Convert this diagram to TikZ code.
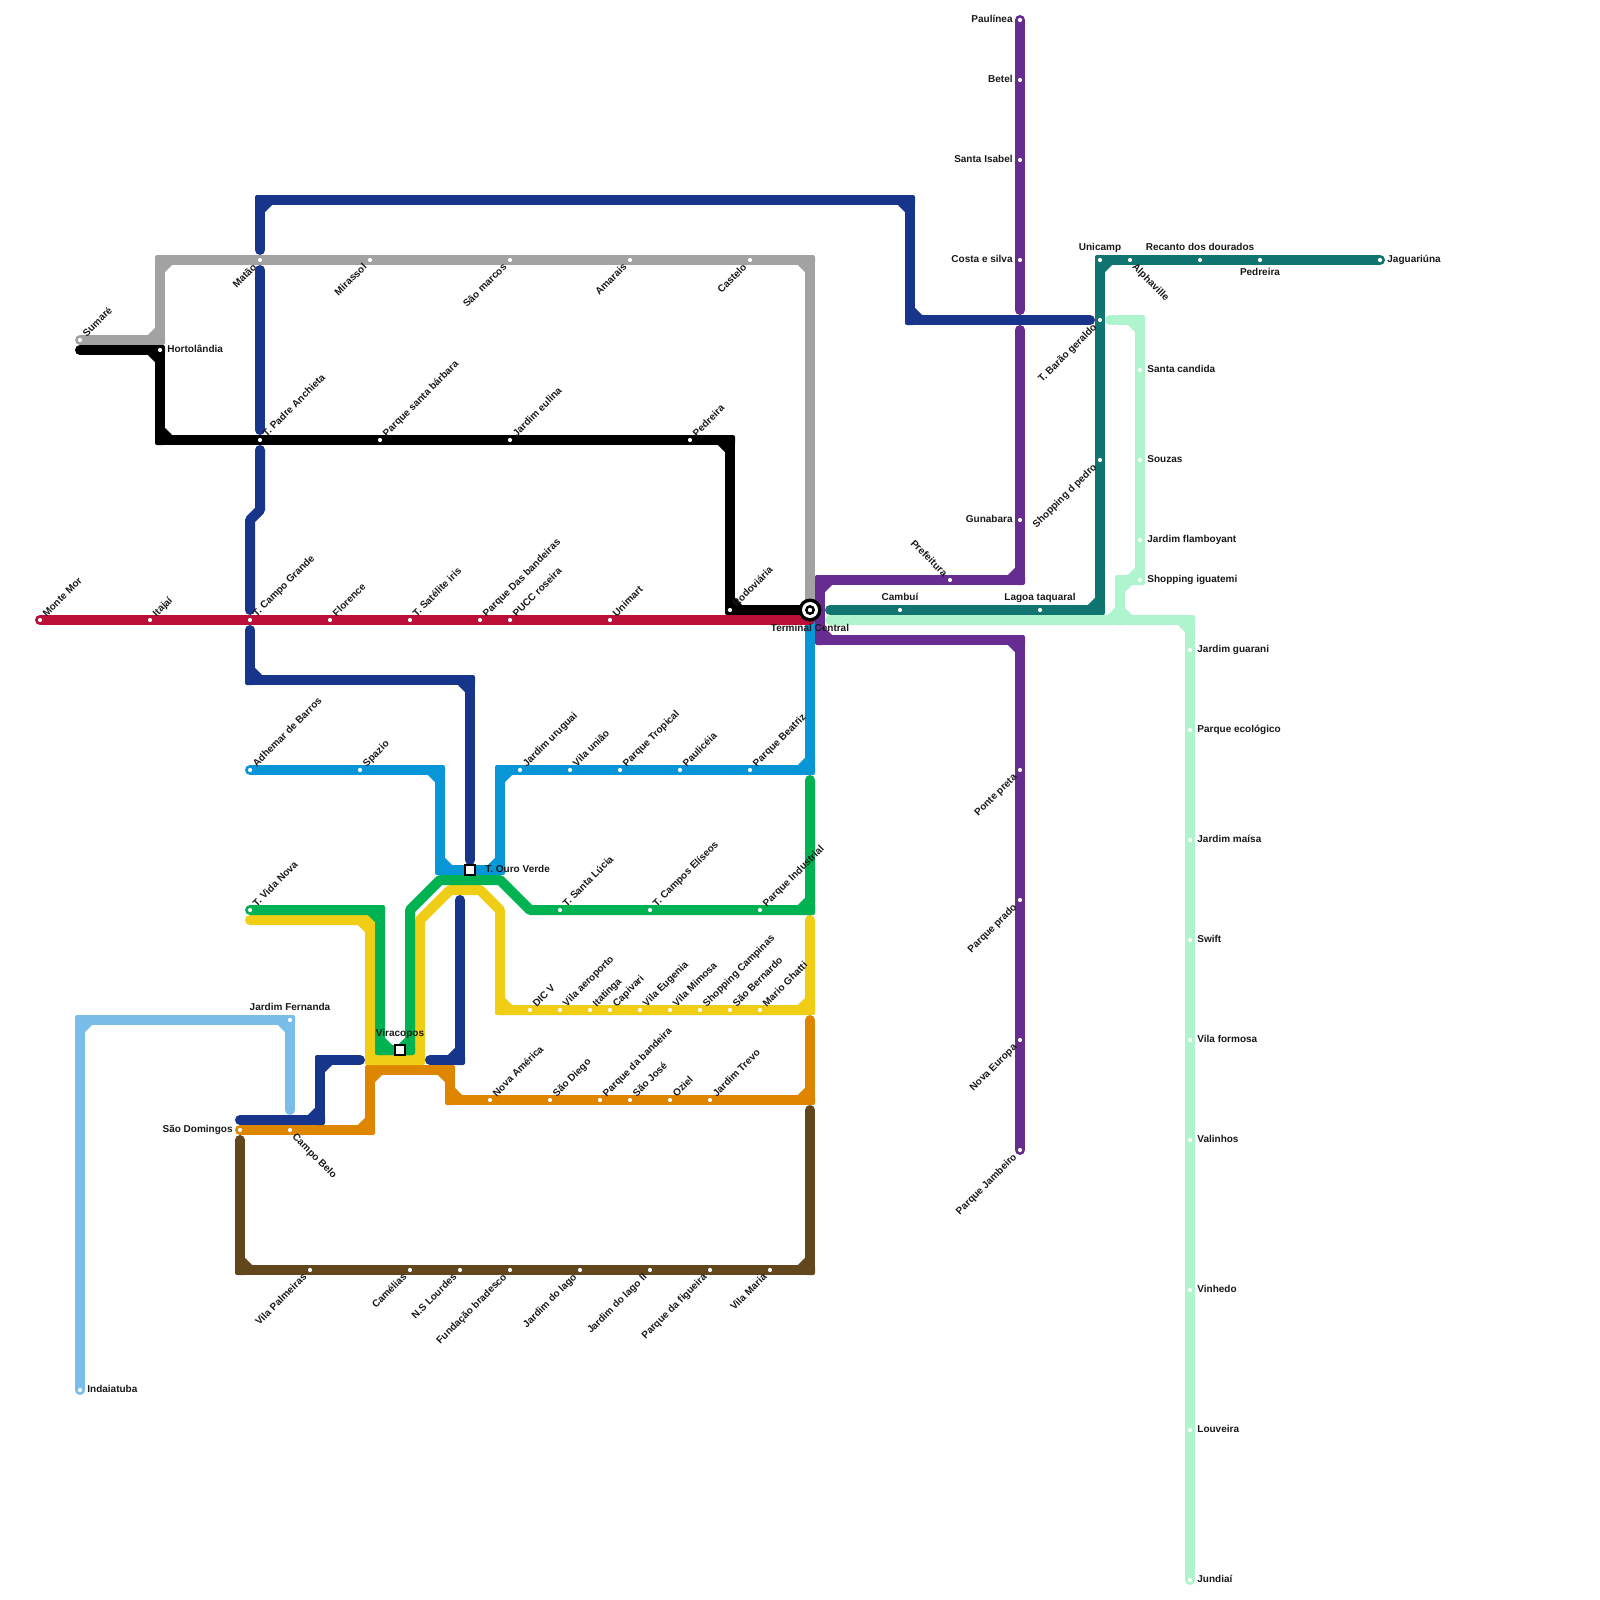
\documentclass[tikz,border=0pt]{standalone}
\usepackage{fontspec}
\setmainfont{Liberation Sans}
\usetikzlibrary{calc,backgrounds}
\definecolor{cRed}{HTML}{BD1038}
\definecolor{cGray}{HTML}{A2A2A2}
\definecolor{cNavy}{HTML}{18358C}
\definecolor{cPurple}{HTML}{662C90}
\definecolor{cTeal}{HTML}{107570}
\definecolor{cMint}{HTML}{AEF5CD}
\definecolor{cCyan}{HTML}{0896D7}
\definecolor{cGreen}{HTML}{00B251}
\definecolor{cYellow}{HTML}{F0CE15}
\definecolor{cOrange}{HTML}{DF8600}
\definecolor{cBrown}{HTML}{62461C}
\definecolor{cSky}{HTML}{79BDE9}
\tikzset{
  metro/.style={line width=5pt,line cap=round,line join=round},
  stopdot/.style={circle,fill=white,draw=none,inner sep=0pt,minimum size=2.1pt},
  txt/.style={font=\fontsize{5}{5.5}\selectfont\bfseries,inner sep=0pt,text=black!90},
  labNE/.style={txt,xshift=3.25pt,yshift=1.25pt,rotate=45,anchor=base west},
  labSW/.style={txt,xshift=-1.25pt,yshift=-3.75pt,rotate=45,anchor=base east},
  labSE/.style={txt,xshift=0.75pt,yshift=-3.75pt,rotate=-45,anchor=base west},
  labNW/.style={txt,xshift=-3.25pt,yshift=1.25pt,rotate=-45,anchor=base east},
  labE/.style={txt,xshift=3.5pt,yshift=-1.3pt,anchor=base west},
  labW/.style={txt,xshift=-3.5pt,yshift=-1.3pt,anchor=base east},
  labN/.style={txt,yshift=5pt,anchor=base},
  labS/.style={txt,yshift=-4pt,anchor=north},
  hubbox/.style={rectangle,fill=white,draw=black,line width=1pt,minimum size=4.6pt,inner sep=0pt},
}
% \st{id}{x,y}{label style}{text}
\newcommand\st[4]{\node[stopdot] (#1) at (#2) {}; \node[#3] (#1-l) at (#1.center) {#4};}
% \metroline{colour}{first}{rest}
\newcommand\metroline[3]{%
  \gdef\mlA{}\gdef\mlB{#2}%
  \foreach \mlC in {#3}{%
    \ifx\mlA\empty\else
      \path let \p0=(\mlB.center),
                \p1=($(\mlB.center)!1pt!(\mlA.center)$),
                \p2=($(\mlB.center)!1pt!(\mlC.center)$) in
        \pgfextra{\pgfmathtruncatemacro\mlTest{abs((\x1-\x0)*(\x2-\x0)+(\y1-\y0)*(\y2-\y0))<0.1 ? 1 : 0}\xdef\mlPerp{\mlTest}};
      \ifnum\mlPerp=1
        \draw[line width=5pt,#1] ($(\mlB.center)!5pt!(\mlA.center)$) -- ($(\mlB.center)!5pt!(\mlC.center)$);
        \fill[#1,rounded corners=1pt] ($(\mlB.center)+(-5,-5)$) rectangle ($(\mlB.center)+(5,5)$);
      \fi
    \fi
    \xdef\mlA{\mlB}\xdef\mlB{\mlC}%
  }%
  \draw[metro,#1] (#2.center) \foreach \mlC in {#3}{ -- (\mlC.center)};%
}
\begin{document}
\begin{tikzpicture}[x=0.5pt,y=-0.5pt]
\useasboundingbox (0,0) rectangle (1600,1600);
% red
\st{montemor}{40,620}{labNE}{Monte Mor}
\st{itajai}{150,620}{labNE}{Itajaí}
\st{campogrande}{250,620}{labNE}{T. Campo Grande}
\st{florence}{330,620}{labNE}{Florence}
\st{satelite}{410,620}{labNE}{T. Satélite iris}
\st{bandeiras}{480,620}{labNE}{Parque Das bandeiras}
\st{pucc}{510,620}{labNE}{PUCC roseira}
\st{unimart}{610,620}{labNE}{Unimart}
% gray
\st{sumare}{80,340}{labNE}{Sumaré}
\st{matao}{260,260}{labSW}{Matão}
\st{mirassol}{370,260}{labSW}{Mirassol}
\st{saomarcos}{510,260}{labSW}{São marcos}
\st{amarais}{630,260}{labSW}{Amarais}
\st{castelo}{750,260}{labSW}{Castelo}
% black
\st{hortolandia}{160,350}{labE}{Hortolândia}
\st{anchieta}{260,440}{labNE}{T. Padre Anchieta}
\st{santabarbara}{380,440}{labNE}{Parque santa bárbara}
\st{eulina}{510,440}{labNE}{Jardim eulina}
\st{pedreiraA}{690,440}{labNE}{Pedreira}
\st{rodoviaria}{730,610}{labNE}{Rodoviária}
% cyan
\st{adhemar}{250,770}{labNE}{Adhemar de Barros}
\st{spazio}{360,770}{labNE}{Spazio}
\st{uruguai}{520,770}{labNE}{Jardim uruguai}
\st{vilauniao}{570,770}{labNE}{Vila união}
\st{tropical}{620,770}{labNE}{Parque Tropical}
\st{pauliceia}{680,770}{labNE}{Paulicéia}
\st{beatriz}{750,770}{labNE}{Parque Beatriz}
% green
\st{vidanova}{250,910}{labNE}{T. Vida Nova}
\st{santalucia}{560,910}{labNE}{T. Santa Lúcia}
\st{eliseos}{650,910}{labNE}{T. Campos Elíseos}
\st{industrial}{760,910}{labNE}{Parque Industrial}
% yellow
\st{dicv}{530,1010}{labNE}{DIC V}
\st{aeroporto}{560,1010}{labNE}{Vila aeroporto}
\st{itatinga}{590,1010}{labNE}{Itatinga}
\st{capivari}{610,1010}{labNE}{Capivari}
\st{eugenia}{640,1010}{labNE}{Vila Eugenia}
\st{mimosa}{670,1010}{labNE}{Vila Mimosa}
\st{shopcamp}{700,1010}{labNE}{Shopping Campinas}
\st{bernardo}{730,1010}{labNE}{São Bernardo}
\st{ghatti}{760,1010}{labNE}{Mario Ghatti}
% orange
\st{domingos}{240,1130}{labW}{São Domingos}
\st{campobelo}{290,1130}{labSE}{Campo Belo}
\st{novaamerica}{490,1100}{labNE}{Nova América}
\st{saodiego}{550,1100}{labNE}{São Diego}
\st{pqbandeira}{600,1100}{labNE}{Parque da bandeira}
\st{saojose}{630,1100}{labNE}{São José}
\st{oziel}{670,1100}{labNE}{Oziel}
\st{trevo}{710,1100}{labNE}{Jardim Trevo}
% brown
\st{palmeiras}{310,1270}{labSW}{Vila Palmeiras}
\st{camelias}{410,1270}{labSW}{Camélias}
\st{lourdes}{460,1270}{labSW}{N.S Lourdes}
\st{bradesco}{510,1270}{labSW}{Fundação bradesco}
\st{lago}{580,1270}{labSW}{Jardim do lago}
\st{lagoii}{650,1270}{labSW}{Jardim do lago II}
\st{figueira}{710,1270}{labSW}{Parque da figueira}
\st{vilamaria}{770,1270}{labSW}{Vila Maria}
% sky
\st{fernanda}{290,1020}{labN}{Jardim Fernanda}
\st{indaiatuba}{80,1390}{labE}{Indaiatuba}
% purple
\st{paulinea}{1020,20}{labW}{Paulínea}
\st{betel}{1020,80}{labW}{Betel}
\st{santaisabel}{1020,160}{labW}{Santa Isabel}
\st{costaesilva}{1020,260}{labW}{Costa e silva}
\st{gunabara}{1020,520}{labW}{Gunabara}
\st{prefeitura}{950,580}{labNW}{Prefeitura}
\st{pontepreta}{1020,770}{labSW}{Ponte preta}
\st{parqueprado}{1020,900}{labSW}{Parque prado}
\st{novaeuropa}{1020,1040}{labSW}{Nova Europa}
\st{jambeiro}{1020,1150}{labSW}{Parque Jambeiro}
% teal
\st{cambui}{900,610}{labN}{Cambuí}
\st{taquaral}{1040,610}{labN}{Lagoa taquaral}
\st{dpedro}{1100,460}{labSW}{Shopping d pedro}
\st{barao}{1100,320}{labSW}{T. Barão geraldo}
\st{unicamp}{1100,260}{labN}{Unicamp}
\st{alphaville}{1130,260}{labSE}{Alphaville}
\st{recanto}{1200,260}{labN}{Recanto dos dourados}
\st{pedreiraB}{1260,260}{labS}{Pedreira}
\st{jaguariuna}{1380,260}{labE}{Jaguariúna}
% mint
\st{santacandida}{1140,370}{labE}{Santa candida}
\st{souzas}{1140,460}{labE}{Souzas}
\st{flamboyant}{1140,540}{labE}{Jardim flamboyant}
\st{iguatemi}{1140,580}{labE}{Shopping iguatemi}
\st{guarani}{1190,650}{labE}{Jardim guarani}
\st{ecologico}{1190,730}{labE}{Parque ecológico}
\st{maisa}{1190,840}{labE}{Jardim maísa}
\st{swift}{1190,940}{labE}{Swift}
\st{vilaformosa}{1190,1040}{labE}{Vila formosa}
\st{valinhos}{1190,1140}{labE}{Valinhos}
\st{vinhedo}{1190,1290}{labE}{Vinhedo}
\st{louveira}{1190,1430}{labE}{Louveira}
\st{jundiai}{1190,1580}{labE}{Jundiaí}
% hubs
\node[hubbox] (ouroverde) at (470,870) {};
\node[txt,anchor=base west] (ouroverde-l) at (485,872.6) {T. Ouro Verde};
\node[hubbox] (viracopos) at (400,1050) {};
\node[txt,anchor=base] (viracopos-l) at (400,1036) {Viracopos};
\node[circle,fill=black,inner sep=0pt,minimum size=11.5pt] (terminal) at (810,610) {};
\fill[white] (terminal.center) circle (8);
\fill[black] (terminal.center) circle (5);
\fill[white] (terminal.center) circle (2.2);
\node[txt,anchor=base] (terminal-l) at (810,631) {Terminal Central};
% bends and free ends
\foreach \n/\p in {
 navyA/{260,250},navyB/{260,200},navyC/{910,200},navyD/{910,320},navyE/{1090,320},
 navyF/{260,270},navyG/{260,430},navyH/{260,450},navyI/{260,510},navyJ/{250,520},navyK/{250,610},
 navyL/{250,630},navyM/{250,680},navyN/{470,680},navyO/{470,860},
 navyP/{460,900},navyQ/{460,1060},navyR/{430,1060},
 navyS/{360,1060},navyT/{320,1060},navyU/{320,1120},navyV/{240,1120},
 grayA/{160,340},grayB/{160,260},grayC/{810,260},
 blackA/{80,350},blackB/{160,440},blackC/{730,440},
 cyanA/{810,620},cyanB/{810,770},cyanC/{500,770},cyanD/{500,870},cyanE/{440,870},cyanF/{440,770},
 greenA/{380,910},greenB/{380,1050},greenC/{410,1050},greenD/{410,910},greenE/{440,880},greenF/{500,880},greenG/{530,910},greenH/{810,910},greenI/{810,780},
 yelA/{250,920},yelB/{370,920},yelC/{370,1060},yelD/{420,1060},yelE/{420,920},yelF/{450,890},yelG/{480,890},yelH/{500,910},yelI/{500,1010},yelJ/{810,1010},yelK/{810,920},
 orA/{370,1130},orB/{370,1070},orC/{450,1070},orD/{450,1100},orE/{810,1100},orF/{810,1020},
 brA/{240,1140},brB/{240,1270},brC/{810,1270},brD/{810,1110},
 skyA/{290,1110},skyB/{80,1020},
 purA/{1020,310},purB/{1020,330},purC/{1020,580},purD/{820,580},purE/{820,640},purF/{1020,640},
 tealA/{830,610},tealB/{1100,610},
 mintA/{830,620},mintB/{1120,620},mintC/{1120,580},mintD/{1140,320},mintE/{1110,320},mintF/{1190,620},
 redA/{810,620}}
 {\coordinate (\n) at (\p);}
\begin{pgfonlayer}{background}
\metroline{cSky}{skyA}{fernanda,skyB,indaiatuba}
\metroline{cBrown}{brA}{brB,palmeiras,camelias,lourdes,bradesco,lago,lagoii,figueira,vilamaria,brC,brD}
\metroline{cOrange}{domingos}{campobelo,orA,orB,orC,orD,novaamerica,saodiego,pqbandeira,saojose,oziel,trevo,orE,orF}
\metroline{cYellow}{yelA}{yelB,yelC,yelD,yelE,yelF,yelG,yelH,yelI,dicv,aeroporto,itatinga,capivari,eugenia,mimosa,shopcamp,bernardo,ghatti,yelJ,yelK}
\metroline{cGreen}{vidanova}{greenA,greenB,viracopos,greenC,greenD,greenE,greenF,greenG,santalucia,eliseos,industrial,greenH,greenI}
\metroline{cCyan}{cyanA}{cyanB,beatriz,pauliceia,tropical,vilauniao,uruguai,cyanC,cyanD,ouroverde,cyanE,cyanF,spazio,adhemar}
\metroline{cNavy}{navyA}{navyB,navyC,navyD,navyE}
\metroline{cNavy}{navyF}{navyG}
\metroline{cNavy}{navyH}{navyI,navyJ,navyK}
\metroline{cNavy}{navyL}{navyM,navyN,navyO}
\metroline{cNavy}{navyP}{navyQ,navyR}
\metroline{cNavy}{navyS}{navyT,navyU,navyV}
\metroline{cGray}{sumare}{grayA,grayB,matao,mirassol,saomarcos,amarais,castelo,grayC,terminal}
\metroline{black}{blackA}{hortolandia,blackB,anchieta,santabarbara,eulina,pedreiraA,blackC,rodoviaria,terminal}
\metroline{cRed}{montemor}{itajai,campogrande,florence,satelite,bandeiras,pucc,unimart,redA}
\metroline{cTeal}{tealA}{cambui,taquaral,tealB,dpedro,barao,unicamp,alphaville,recanto,pedreiraB,jaguariuna}
\metroline{cMint}{mintE}{mintD,santacandida,souzas,flamboyant,iguatemi,mintC,mintB,mintA}
\metroline{cMint}{mintC}{mintB,mintF,guarani,ecologico,maisa,swift,vilaformosa,valinhos,vinhedo,louveira,jundiai}
\metroline{cPurple}{paulinea}{betel,santaisabel,costaesilva,purA}
\metroline{cPurple}{purB}{gunabara,purC,prefeitura,purD,purE,purF,pontepreta,parqueprado,novaeuropa,jambeiro}
\end{pgfonlayer}
\end{tikzpicture}
\end{document}
